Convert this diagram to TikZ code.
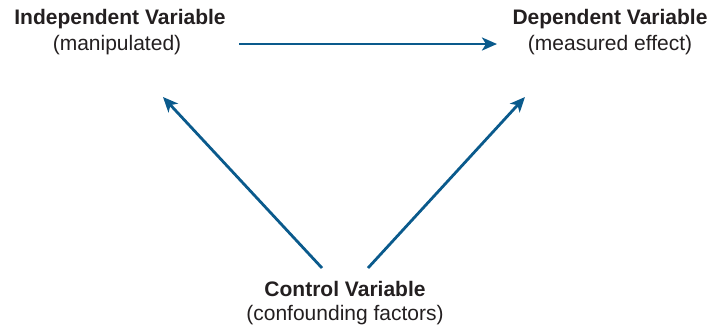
\documentclass[tikz,border=0pt]{standalone}
\usepackage{fontspec}
\setmainfont{Liberation Sans}
\usetikzlibrary{arrows.meta}
\definecolor{arrowblue}{RGB}{10,90,140}
\definecolor{txt}{RGB}{35,31,32}
\begin{document}
\begin{tikzpicture}[x=1pt,y=-1pt,
  title/.style={font=\bfseries\fontsize{21}{26}\selectfont, text=txt, anchor=base, inner sep=0pt},
  sub/.style={font=\fontsize{21}{26}\selectfont, text=txt, anchor=base, inner sep=0pt},
  link/.style={draw=arrowblue, line width=2.8pt, -{Stealth[length=15pt,width=13pt,inset=4pt]}}]
\useasboundingbox (0,0) rectangle (711,327);
\node[title] (ind) at (120,24) {Independent Variable};
\node[sub] (indsub) at (117,50) {(manipulated)};
\node[title] (dep) at (610,24) {Dependent Variable};
\node[sub] (depsub) at (610,50) {(measured effect)};
\node[title] (ctl) at (345,296) {Control Variable};
\node[sub] (ctlsub) at (345,320) {(confounding factors)};
\coordinate (hs) at (239,44);
\coordinate (he) at (497,44);
\coordinate (ls) at (322,268);
\coordinate (le) at (163,97);
\coordinate (rs) at (368,268);
\coordinate (re) at (525,97);
\draw[link] (hs) -- (he);
\draw[link] (ls) -- (le);
\draw[link] (rs) -- (re);
\end{tikzpicture}
\end{document}
